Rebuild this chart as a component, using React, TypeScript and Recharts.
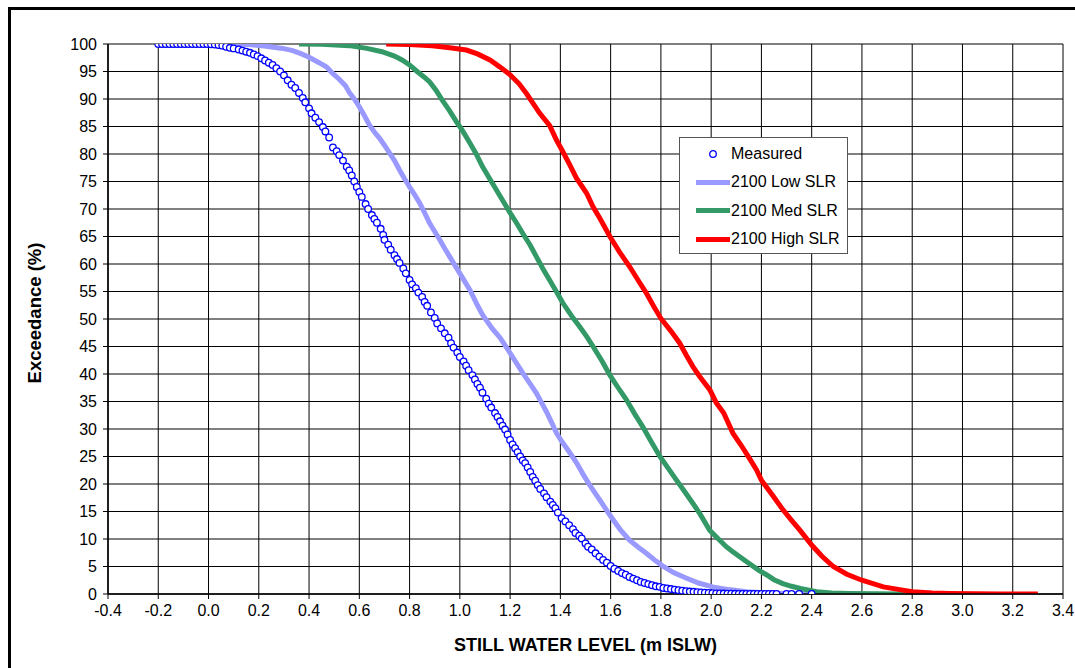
import React from 'react'
import {
  ComposedChart, Line, Scatter, XAxis, YAxis, CartesianGrid, Label,
} from 'recharts'

// x = still water level (m ISLW), y = exceedance (%)
const xTicks = [-0.4, -0.2, 0, 0.2, 0.4, 0.6, 0.8, 1.0, 1.2, 1.4, 1.6, 1.8, 2.0, 2.2, 2.4, 2.6, 2.8, 3.0, 3.2, 3.4]
const yTicks = [0, 5, 10, 15, 20, 25, 30, 35, 40, 45, 50, 55, 60, 65, 70, 75, 80, 85, 90, 95, 100]

const measured: [number, number][] = [
  [-0.2, 100], [-0.185, 100], [-0.17, 100], [-0.155, 100], [-0.14, 100], [-0.125, 100], [-0.11, 100],
  [-0.095, 100], [-0.08, 100], [-0.065, 100], [-0.05, 100], [-0.035, 100], [-0.02, 100], [-0.005, 100],
  [0.01, 99.95], [0.025, 99.9], [0.04, 99.8], [0.055, 99.7], [0.07, 99.5], [0.085, 99.3], [0.1, 99.2],
  [0.12, 99.0], [0.135, 98.8], [0.15, 98.6], [0.165, 98.4], [0.18, 98.1], [0.195, 97.8], [0.21, 97.4],
  [0.225, 97.0], [0.24, 96.6], [0.255, 96.2], [0.27, 95.6], [0.285, 95.0], [0.3, 94.3], [0.315, 93.4],
  [0.33, 92.6], [0.345, 92.0], [0.36, 91.1], [0.375, 90.2], [0.385, 89.4], [0.4, 88.3], [0.41, 87.4],
  [0.425, 86.6], [0.44, 85.8], [0.455, 84.9], [0.465, 84.1], [0.48, 83.0], [0.495, 81.2], [0.51, 80.5],
  [0.52, 79.8], [0.535, 78.8], [0.55, 77.7], [0.56, 77.0], [0.57, 76.1], [0.58, 75.0], [0.59, 74.0],
  [0.6, 73.1], [0.61, 72.2], [0.625, 70.9], [0.635, 70.0], [0.65, 68.9], [0.66, 68.2], [0.67, 67.5],
  [0.685, 66.4], [0.695, 65.3], [0.7, 64.4], [0.715, 63.5], [0.725, 62.6], [0.74, 61.6], [0.75, 60.9],
  [0.76, 60.2], [0.775, 59.2], [0.785, 58.3], [0.8, 57.1], [0.81, 56.3], [0.825, 55.6], [0.835, 54.8],
  [0.85, 54.0], [0.86, 53.1], [0.87, 52.4], [0.885, 51.2], [0.9, 50.2], [0.91, 49.2], [0.925, 48.3],
  [0.94, 47.4], [0.955, 46.6], [0.965, 45.6], [0.975, 44.8], [0.99, 43.9], [1.0, 43.1], [1.015, 42.3],
  [1.025, 41.5], [1.035, 40.7], [1.05, 39.8], [1.06, 39.0], [1.07, 38.2], [1.08, 37.5], [1.09, 36.6],
  [1.105, 35.5], [1.115, 34.6], [1.125, 33.9], [1.14, 32.9], [1.15, 32.2], [1.16, 31.4], [1.17, 30.6],
  [1.18, 29.9], [1.19, 29.0], [1.2, 28.0], [1.21, 27.2], [1.22, 26.5], [1.23, 25.8], [1.24, 25.0],
  [1.25, 24.3], [1.26, 23.8], [1.27, 23.0], [1.28, 22.2], [1.29, 21.3], [1.3, 20.6], [1.31, 19.8],
  [1.32, 19.1], [1.335, 18.3], [1.345, 17.6], [1.36, 16.8], [1.37, 16.2], [1.38, 15.6], [1.39, 14.8],
  [1.405, 13.8], [1.42, 13.2], [1.435, 12.5], [1.45, 11.8], [1.46, 11.1], [1.475, 10.6], [1.485, 10.1],
  [1.5, 9.2], [1.51, 8.6], [1.525, 8.1], [1.54, 7.4], [1.555, 6.8], [1.57, 6.2], [1.585, 5.7], [1.6, 5.1],
  [1.615, 4.6], [1.63, 4.2], [1.645, 3.8], [1.66, 3.5], [1.675, 3.1], [1.69, 2.8], [1.705, 2.5],
  [1.72, 2.2], [1.735, 2.0], [1.75, 1.8], [1.765, 1.6], [1.78, 1.4], [1.795, 1.3], [1.81, 1.1],
  [1.825, 1.0], [1.84, 0.9], [1.855, 0.8], [1.87, 0.7], [1.885, 0.6], [1.9, 0.5], [1.915, 0.45],
  [1.93, 0.4], [1.945, 0.35], [1.96, 0.3], [1.975, 0.25], [1.99, 0.2], [2.005, 0.15], [2.02, 0.12],
  [2.035, 0.1], [2.05, 0.08], [2.065, 0.06], [2.08, 0.05], [2.095, 0.04], [2.11, 0.03], [2.125, 0.02],
  [2.14, 0.02], [2.155, 0.01], [2.17, 0.01], [2.185, 0.01], [2.2, 0], [2.215, 0], [2.23, 0], [2.245, 0],
  [2.26, 0], [2.3, 0], [2.32, 0], [2.35, 0], [2.4, 0],
]

const lowSlr: [number, number][] = [
  [0.0, 100], [0.1, 99.95], [0.16, 99.9], [0.23, 99.6], [0.295, 99.2], [0.335, 98.8], [0.37, 98.2],
  [0.4, 97.6], [0.44, 96.6], [0.47, 95.8], [0.495, 94.6], [0.52, 93.6], [0.545, 92.4], [0.56, 91.2],
  [0.58, 90.0], [0.6, 88.6], [0.62, 87.0], [0.64, 85.3], [0.66, 84.0], [0.68, 82.9], [0.7, 81.6],
  [0.72, 80.2], [0.74, 78.8], [0.76, 77.1], [0.78, 75.5], [0.8, 74.0], [0.82, 72.6], [0.84, 71.1],
  [0.86, 69.3], [0.88, 67.4], [0.9, 65.9], [0.92, 64.4], [0.94, 62.8], [0.96, 61.3], [0.98, 59.8],
  [1.0, 58.3], [1.02, 56.8], [1.04, 55.3], [1.07, 52.5], [1.09, 50.8], [1.105, 49.8], [1.13, 48.2],
  [1.16, 46.6], [1.18, 45.2], [1.2, 43.8], [1.225, 42.0], [1.25, 40.2], [1.28, 38.2], [1.305, 36.5],
  [1.325, 34.8], [1.345, 33.1], [1.365, 31.2], [1.385, 29.2], [1.405, 27.8], [1.425, 26.5], [1.445, 25.2],
  [1.465, 23.8], [1.49, 21.8], [1.517, 19.8], [1.545, 17.9], [1.57, 16.2], [1.59, 14.8], [1.61, 13.5],
  [1.64, 11.6], [1.675, 9.8], [1.71, 8.5], [1.742, 7.4], [1.775, 6.2], [1.81, 5.0], [1.85, 3.9],
  [1.9, 2.9], [1.95, 2.0], [2.006, 1.3], [2.07, 0.8], [2.14, 0.4], [2.22, 0.2], [2.3, 0.1], [2.4, 0.03],
  [2.55, 0],
]

const medSlr: [number, number][] = [
  [0.36, 100], [0.45, 99.95], [0.56, 99.7], [0.63, 99.2], [0.69, 98.6], [0.74, 97.8], [0.77, 97.1],
  [0.8, 96.2], [0.83, 95.0], [0.855, 94.1], [0.88, 93.1], [0.905, 91.6], [0.93, 89.8], [0.96, 87.8],
  [0.986, 85.9], [1.01, 84.3], [1.04, 82.0], [1.065, 80.0], [1.09, 77.7], [1.12, 75.4], [1.145, 73.5],
  [1.17, 71.6], [1.2, 69.3], [1.225, 67.5], [1.25, 65.6], [1.28, 63.4], [1.305, 61.3], [1.33, 59.2],
  [1.357, 57.1], [1.385, 54.9], [1.41, 52.9], [1.45, 50.2], [1.477, 48.6], [1.505, 46.8], [1.53, 45.0],
  [1.565, 42.4], [1.597, 39.8], [1.63, 37.5], [1.663, 35.3], [1.695, 32.8], [1.728, 30.4], [1.76, 27.8],
  [1.796, 25.0], [1.83, 22.8], [1.862, 20.7], [1.895, 18.6], [1.927, 16.5], [1.955, 14.6], [1.994, 11.6],
  [2.02, 10.4], [2.06, 8.6], [2.086, 7.7], [2.14, 5.9], [2.19, 4.3], [2.22, 3.5], [2.25, 2.6],
  [2.285, 1.9], [2.32, 1.4], [2.355, 1.0], [2.42, 0.4], [2.48, 0.2], [2.55, 0.1], [2.65, 0.03],
  [2.75, 0], [2.85, 0],
]

const highSlr: [number, number][] = [
  [0.707, 100], [0.8, 99.9], [0.89, 99.7], [0.96, 99.3], [1.026, 98.9], [1.07, 98.2], [1.12, 97.1],
  [1.16, 95.8], [1.2, 94.4], [1.235, 92.8], [1.265, 91.0], [1.29, 89.3], [1.318, 87.4], [1.357, 85.2],
  [1.385, 82.5], [1.41, 80.4], [1.44, 77.8], [1.464, 75.6], [1.504, 72.9], [1.53, 70.4], [1.557, 68.3],
  [1.597, 65.0], [1.635, 62.2], [1.676, 59.5], [1.71, 57.0], [1.742, 54.7], [1.77, 52.4], [1.8, 50.1],
  [1.84, 47.8], [1.875, 45.6], [1.9, 43.5], [1.928, 41.3], [1.955, 39.5], [1.995, 37.1], [2.02, 34.8],
  [2.05, 32.9], [2.087, 29.2], [2.12, 27.0], [2.153, 24.6], [2.18, 22.6], [2.2, 20.7], [2.245, 17.9],
  [2.286, 15.3], [2.32, 13.4], [2.353, 11.6], [2.4, 8.9], [2.44, 6.9], [2.486, 5.0], [2.54, 3.6],
  [2.6, 2.5], [2.685, 1.3], [2.75, 0.8], [2.8, 0.4], [2.88, 0.2], [2.95, 0.1], [3.05, 0.03],
  [3.15, 0], [3.3, 0],
]

const FONT = '"Liberation Sans", Arial, sans-serif'
const toPts = (arr: [number, number][]) => arr.map(([x, y]) => ({ x, y }))

const series = [
  { name: '2100 Low SLR', color: '#9999FF', data: toPts(lowSlr) },
  { name: '2100 Med SLR', color: '#339966', data: toPts(medSlr) },
  { name: '2100 High SLR', color: '#FF0000', data: toPts(highSlr) },
]

const OpenCircle = (props: any) => {
  const { cx, cy } = props
  if (cx == null || cy == null) return null
  return <circle cx={cx} cy={cy} r={3.3} fill="#fff" stroke="#0000FF" strokeWidth={1.3} />
}

// legend drawn as an overlay so it doesn't eat into the plot area
const LegendBox = () => (
  <div style={{
    position: 'absolute', left: 679, top: 137, width: 167, height: 115, background: '#fff',
    border: '1px solid #555', fontFamily: FONT, fontSize: 16, color: '#000',
  }}>
    <div style={{ position: 'absolute', left: 16, top: 6, height: 20, display: 'flex', alignItems: 'center' }}>
      <svg width={34} height={10}><circle cx={17} cy={5} r={3.3} fill="#fff" stroke="#0000FF" strokeWidth={1.3} /></svg>
      <span style={{ marginLeft: 1 }}>Measured</span>
    </div>
    {series.map((s, i) => (
      <div key={s.name} style={{ position: 'absolute', left: 16, top: 34 + i * 28.5, height: 20, display: 'flex', alignItems: 'center' }}>
        <span style={{ width: 34, height: 5, background: s.color, display: 'inline-block' }} />
        <span style={{ marginLeft: 1 }}>{s.name}</span>
      </div>
    ))}
  </div>
)

export default function App() {
  return (
    <div style={{ position: 'absolute', left: 0, top: 0, width: 1075, height: 668, background: '#fff', overflow: 'hidden' }}>
      <div style={{
        position: 'absolute', left: 8, top: 7, width: 1100, height: 700,
        borderLeft: '3px solid #000', borderTop: '3px solid #000',
      }} />
      <ComposedChart
        width={1075}
        height={668}
        margin={{ top: 44, right: 12, left: 28, bottom: 14 }}
        style={{ position: 'absolute', left: 0, top: 0 }}
      >
        <CartesianGrid stroke="#000" strokeWidth={1} />
        <XAxis
          type="number"
          dataKey="x"
          domain={[-0.4, 3.4]}
          ticks={xTicks}
          interval={0}
          allowDataOverflow
          tickFormatter={(v: number) => v.toFixed(1)}
          tick={{ fontSize: 16, fill: '#000', fontFamily: FONT }}
          tickSize={5}
          tickMargin={6}
          tickLine={{ stroke: '#000' }}
          axisLine={{ stroke: '#000', strokeWidth: 1.5 }}
          height={60}
        >
          <Label
            content={({ viewBox }: any) => (
              <text x={viewBox.x + viewBox.width / 2} y={viewBox.y + 57} textAnchor="middle"
                fontFamily={FONT} fontWeight="bold" fontSize={18} fill="#000">
                STILL WATER LEVEL (m ISLW)
              </text>
            )}
          />
        </XAxis>
        <YAxis
          type="number"
          dataKey="y"
          domain={[0, 100]}
          ticks={yTicks}
          interval={0}
          allowDataOverflow
          tick={{ fontSize: 16, fill: '#000', fontFamily: FONT }}
          tickSize={5}
          tickMargin={6}
          tickLine={{ stroke: '#000' }}
          axisLine={{ stroke: '#000', strokeWidth: 1.5 }}
          width={80}
        >
          <Label
            content={({ viewBox }: any) => {
              const cx = 34
              const cy = viewBox.y + viewBox.height / 2 - 6
              return (
                <text x={cx} y={cy} transform={`rotate(-90 ${cx} ${cy})`} textAnchor="middle"
                  dominantBaseline="central" fontFamily={FONT} fontWeight="bold" fontSize={18.5} fill="#000">
                  Exceedance (%)
                </text>
              )
            }}
          />
        </YAxis>
        {series.map(s => (
          <Line
            key={s.name}
            data={s.data}
            dataKey="y"
            name={s.name}
            type="linear"
            stroke={s.color}
            strokeWidth={5}
            dot={false}
            activeDot={false}
            isAnimationActive={false}
          />
        ))}
        <Scatter
          name="Measured"
          data={toPts(measured)}
          dataKey="y"
          shape={<OpenCircle />}
          isAnimationActive={false}
        />
      </ComposedChart>
      <LegendBox />
    </div>
  )
}
